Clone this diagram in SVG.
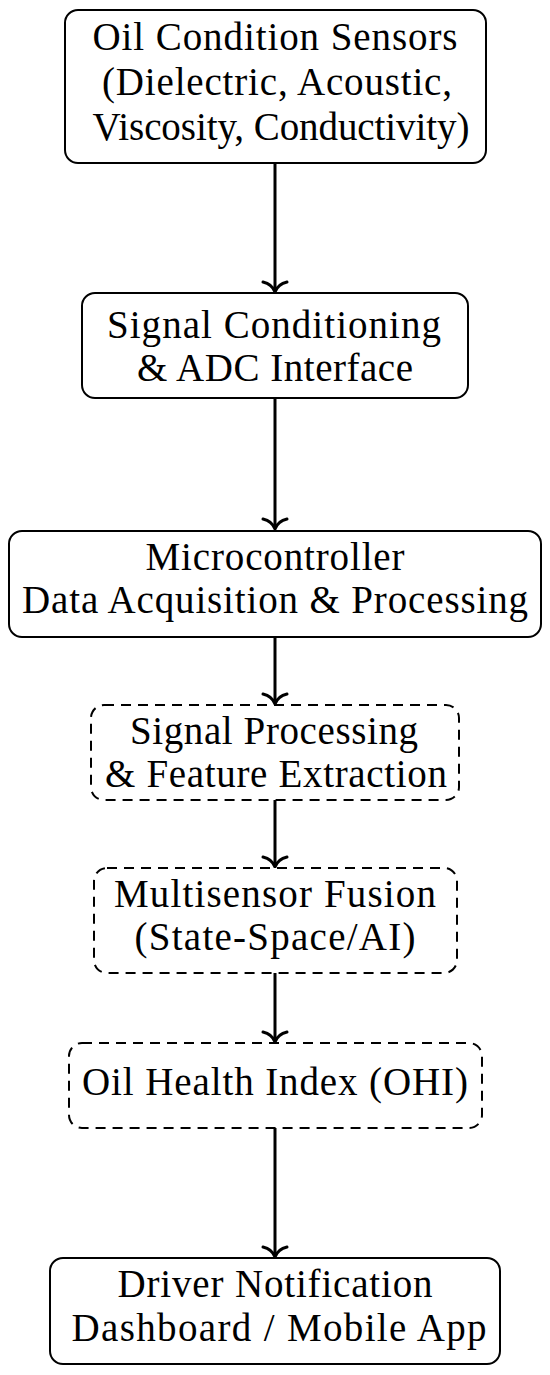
<svg xmlns="http://www.w3.org/2000/svg" width="550" height="1375" viewBox="0 0 550 1375">
<style>
.box{fill:#fff;stroke:#000;stroke-width:2}
.dash{fill:#fff;stroke:#000;stroke-width:2;stroke-dasharray:10 7}
.t{font-family:"Liberation Serif","Times New Roman",serif;font-size:39px;fill:#000;text-anchor:middle}
.c{stroke:#000;stroke-width:3;fill:none}
.ah{stroke:#000;stroke-width:3;fill:none;stroke-linecap:round}
</style>
<rect width="550" height="1375" fill="#fff"/>
<g id="connectors">
<path class="c" d="M275 163V291"/><path class="ah" d="M263 282Q272 284 275 292Q278 284 287 282"/>
<path class="c" d="M275 398V528"/><path class="ah" d="M263 519Q272 521 275 529Q278 521 287 519"/>
<path class="c" d="M275 637V703"/><path class="ah" d="M263 694Q272 696 275 704Q278 696 287 694"/>
<path class="c" d="M275 800V866"/><path class="ah" d="M263 857Q272 859 275 867Q278 859 287 857"/>
<path class="c" d="M275 973V1041"/><path class="ah" d="M263 1032Q272 1034 275 1042Q278 1034 287 1032"/>
<path class="c" d="M275 1128V1256"/><path class="ah" d="M263 1247Q272 1249 275 1257Q278 1249 287 1247"/>
</g>
<g id="n1"><rect class="box" x="65" y="10" width="421" height="153" rx="13"/>
<text class="t" x="275" y="50" textLength="365" lengthAdjust="spacing">Oil Condition Sensors</text>
<text class="t" x="277" y="95" textLength="350" lengthAdjust="spacing">(Dielectric, Acoustic,</text>
<text class="t" x="281" y="140" textLength="377" lengthAdjust="spacing">Viscosity, Conductivity)</text></g>
<g id="n2"><rect class="box" x="82" y="293" width="386" height="105" rx="13"/>
<text class="t" x="274" y="338" textLength="334" lengthAdjust="spacing">Signal Conditioning</text>
<text class="t" x="275" y="381" textLength="276" lengthAdjust="spacing">&amp; ADC Interface</text></g>
<g id="n3"><rect class="box" x="9" y="531" width="532" height="106" rx="13"/>
<text class="t" x="275" y="570" textLength="259" lengthAdjust="spacing">Microcontroller</text>
<text class="t" x="275" y="613" textLength="506" lengthAdjust="spacing">Data Acquisition &amp; Processing</text></g>
<g id="n4"><rect class="dash" x="91" y="705" width="368" height="95" rx="13"/>
<text class="t" x="274" y="744" textLength="288" lengthAdjust="spacing">Signal Processing</text>
<text class="t" x="276" y="787" textLength="342" lengthAdjust="spacing">&amp; Feature Extraction</text></g>
<g id="n5"><rect class="dash" x="94" y="868" width="363" height="105" rx="13"/>
<text class="t" x="275" y="907" textLength="322" lengthAdjust="spacing">Multisensor Fusion</text>
<text class="t" x="275" y="950" textLength="281" lengthAdjust="spacing">(State-Space/AI)</text></g>
<g id="n6"><rect class="dash" x="69" y="1043" width="413" height="85" rx="13"/>
<text class="t" x="275" y="1095" textLength="386" lengthAdjust="spacing">Oil Health Index (OHI)</text></g>
<g id="n7"><rect class="box" x="50" y="1258" width="450" height="106" rx="13"/>
<text class="t" x="275" y="1297" textLength="315" lengthAdjust="spacing">Driver Notification</text>
<text class="t" x="279" y="1341" textLength="415" lengthAdjust="spacing">Dashboard / Mobile App</text></g>
</svg>
